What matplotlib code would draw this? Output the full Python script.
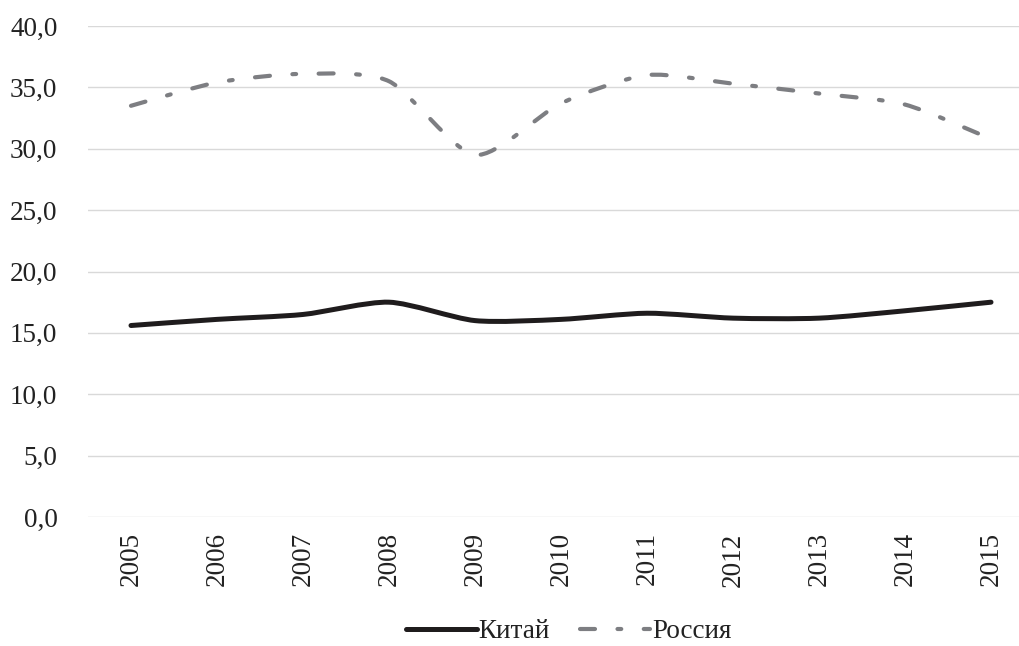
import numpy as np
import matplotlib
matplotlib.use("Agg")
import matplotlib.pyplot as plt
from matplotlib.path import Path
from matplotlib.patches import PathPatch
from matplotlib.lines import Line2D
from matplotlib.ticker import FuncFormatter

years = ["2005", "2006", "2007", "2008", "2009", "2010",
         "2011", "2012", "2013", "2014", "2015"]
china = [15.6, 16.1, 16.5, 17.5, 16.0, 16.1, 16.6, 16.2, 16.2, 16.8, 17.5]
russia = [33.5, 35.4, 36.1, 35.5, 29.5, 33.7, 36.0, 35.3, 34.5, 33.6, 30.8]

plt.rcParams['font.family'] = ['Liberation Serif', 'DejaVu Serif']

def smooth_path(xs, ys, k=8):
    """Сглаженная линия (кривые Безье, как в Excel)"""
    pts = np.column_stack([xs, ys]).astype(float)
    n = len(pts)
    verts = [pts[0]]
    codes = [Path.MOVETO]
    for i in range(n - 1):
        p0 = pts[i - 1] if i > 0 else pts[i]
        p1 = pts[i]
        p2 = pts[i + 1]
        p3 = pts[i + 2] if i + 2 < n else pts[i + 1]
        c1 = p1 + (p2 - p0) / k
        c2 = p2 - (p3 - p1) / k
        verts += [c1, c2, p2]
        codes += [Path.CURVE4] * 3
    return Path(verts, codes)

fig = plt.figure(figsize=(10.2, 6.46), dpi=100)
ax = fig.add_axes([88 / 1020, 1 - 517 / 646, 946 / 1020, 491 / 646])

x = np.arange(len(years))

china_color = "#1f1c1d"
russia_color = "#7d7e82"
russia_dash = (0, (3.6, 5.4, 0.9, 5.4))

ax.add_patch(PathPatch(smooth_path(x, china), fill=False, edgecolor=china_color,
                       lw=3.6, capstyle="round", joinstyle="round", zorder=3))
ax.add_patch(PathPatch(smooth_path(x, russia), fill=False, edgecolor=russia_color,
                       lw=3.0, linestyle=russia_dash, capstyle="round",
                       joinstyle="round", zorder=3))

ax.set_xlim(-0.5, len(years) - 0.5)
ax.set_ylim(0, 40)
ax.set_yticks(np.arange(0, 41, 5))
ax.yaxis.set_major_formatter(FuncFormatter(lambda v, p: f"{v:.1f}".replace(".", ",")))
ax.set_xticks(x)
ax.set_xticklabels(years, rotation=90)
ax.tick_params(axis="both", length=0, labelsize=19.5, colors="#222222")
ax.tick_params(axis="y", pad=22)
ax.tick_params(axis="x", pad=11)
ax.grid(axis="y", color="#d9d9d9", lw=1.0)
ax.set_axisbelow(True)
for s in ax.spines.values():
    s.set_visible(False)

handles = [
    Line2D([], [], color=china_color, lw=3.6, solid_capstyle="round"),
    Line2D([], [], color=russia_color, lw=3.0, linestyle=russia_dash,
           dash_capstyle="round"),
]
fig.legend(handles, ["Китай", "Россия"], loc="center",
           bbox_to_anchor=(569 / 1020, 1 - 632 / 646), ncol=2, frameon=False,
           fontsize=19.5, handlelength=2.6, handletextpad=0.08, columnspacing=1.1,
           labelcolor="#222222")

fig.savefig("out.png", dpi=100)
